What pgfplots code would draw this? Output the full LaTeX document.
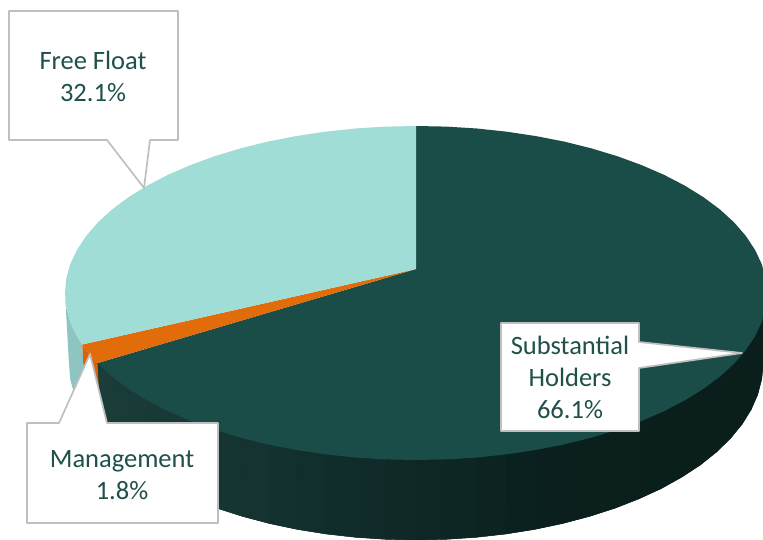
\documentclass[border=0pt]{standalone}
\usepackage{fontspec}
\setmainfont{Carlito}
\usepackage{pgfplots}
\pgfplotsset{compat=1.18}
\definecolor{topDark}{RGB}{27,77,72}
\definecolor{topLight}{RGB}{160,221,214}
\definecolor{topOrange}{RGB}{226,107,10}
\definecolor{wallLight}{RGB}{143,197,193}
\definecolor{wallOrange}{RGB}{215,100,8}
\definecolor{wallBase}{RGB}{14,38,36}
\definecolor{calloutEdge}{RGB}{191,191,191}
\definecolor{labelInk}{RGB}{31,80,75}
\begin{document}
\begin{tikzpicture}
\useasboundingbox (0,0) rectangle (763pt,539pt);
\begin{axis}[
  anchor=south west, at={(0,0)},
  scale only axis, width=763pt, height=539pt,
  xmin=0, xmax=763, ymin=0, ymax=539, y dir=reverse,
  hide axis, clip=true,
  colormap={wall}{rgb255=(26,62,59) rgb255=(17,47,45) rgb255=(11,32,30) rgb255=(10,30,27)},
  point meta min=95, point meta max=763,
]
% Base coat under the front wall of the largest slice
\addplot[fill=wallBase, draw=none] coordinates {
(97.4,363.1) (720.0,376.5) (767.0,293.0) (763.0,364.0) (761.7,379.3) (757.7,394.6) (751.2,409.5)
(742.1,424.2) (730.5,438.4) (716.5,452.0) (700.3,465.0) (681.8,477.1) (661.4,488.5)
(639.0,498.8) (615.0,508.2) (589.5,516.4) (562.6,523.5) (534.7,529.4) (505.8,534.0)
(476.2,537.3) (446.2,539.3) (416.0,540.0) (385.8,539.3) (355.8,537.3) (326.2,534.0)
(297.3,529.4) (269.4,523.5) (242.5,516.4) (217.0,508.2) (193.0,498.8) (170.6,488.5)
(150.2,477.1) (131.7,465.0) (115.5,452.0) (101.5,438.4)} -- cycle;
% Outer wall of the largest slice, front arc, top rim paired with bottom rim
\addplot[surf, shader=flat mean,
         mesh/cols=2, point meta=x] table[row sep=\\] {
x y\\
97.4 363.1\\ 101.5 438.4\\
112.0 376.5\\ 115.5 452.0\\
128.5 388.8\\ 131.7 465.0\\
147.1 400.3\\ 150.2 477.1\\
167.8 411.1\\ 170.6 488.5\\
190.4 420.9\\ 193.0 498.8\\
214.7 429.8\\ 217.0 508.2\\
240.5 437.6\\ 242.5 516.4\\
267.7 444.4\\ 269.4 523.5\\
296.0 449.9\\ 297.3 529.4\\
325.2 454.3\\ 326.2 534.0\\
355.1 457.5\\ 355.8 537.3\\
385.4 459.4\\ 385.8 539.3\\
416.0 460.0\\ 416.0 540.0\\
446.6 459.4\\ 446.2 539.3\\
476.9 457.5\\ 476.2 537.3\\
506.8 454.3\\ 505.8 534.0\\
536.0 449.9\\ 534.7 529.4\\
564.3 444.4\\ 562.6 523.5\\
591.5 437.6\\ 589.5 516.4\\
617.3 429.8\\ 615.0 508.2\\
641.6 420.9\\ 639.0 498.8\\
664.2 411.1\\ 661.4 488.5\\
684.9 400.3\\ 681.8 477.1\\
703.5 388.8\\ 700.3 465.0\\
720.0 376.5\\ 716.5 452.0\\
734.1 363.6\\ 730.5 438.4\\
745.8 350.1\\ 742.1 424.2\\
755.0 336.2\\ 751.2 409.5\\
761.7 322.0\\ 757.7 394.6\\
765.7 307.6\\ 761.7 379.3\\
767.0 293.0\\ 763.0 364.0\\
};
% Outer wall of the free float slice
\addplot[fill=wallLight, draw=none] coordinates {
(65.0,293) (66.3,307.6) (70.3,322.0) (77.0,336.2) (82.3,344.5)
(86.0,418.0) (80.8,409.5) (74.3,394.6) (70.3,379.3) (69.0,364.0)} -- cycle;
% Outer wall of the management slice
\addplot[fill=wallOrange, draw=none] coordinates {
(82.3,344.5) (86.2,350.1) (97.4,363.1) (101.5,438.4) (86.0,418.0)} -- cycle;

% Top face: substantial holders 66.1%
\addplot[fill=topDark, draw=none] coordinates {
(416,269) (416,126)
(446.6,126.6) (476.9,128.5) (506.8,131.7) (536.0,136.1) (564.3,141.6) (591.5,148.4)
(617.3,156.2) (641.6,165.1) (664.2,174.9) (684.9,185.7) (703.5,197.2) (720.0,209.5)
(734.1,222.4) (745.8,235.9) (755.0,249.8) (761.7,264.0) (765.7,278.4) (767.0,293.0)
(765.7,307.6) (761.7,322.0) (755.0,336.2) (745.8,350.1) (734.1,363.6) (720.0,376.5)
(703.5,388.8) (684.9,400.3) (664.2,411.1) (641.6,420.9) (617.3,429.8) (591.5,437.6)
(564.3,444.4) (536.0,449.9) (506.8,454.3) (476.9,457.5) (446.6,459.4) (416.0,460.0)
(385.4,459.4) (355.1,457.5) (325.2,454.3) (296.0,449.9) (267.7,444.4) (240.5,437.6)
(214.7,429.8) (190.4,420.9) (167.8,411.1) (147.1,400.3) (128.5,388.8) (112.0,376.5)
(97.4,363.1)} -- cycle;
% Top face: management 1.8%
\addplot[fill=topOrange, draw=none] coordinates {
(416,269) (97.4,363.1) (86.2,350.1) (82.3,344.5)} -- cycle;
% Top face: free float 32.1%
\addplot[fill=topLight, draw=none] coordinates {
(416,269) (82.3,344.5) (77.0,336.2) (70.3,322.0) (66.3,307.6) (65.0,293.0)
(66.3,278.4) (70.3,264.0) (77.0,249.8) (86.2,235.9) (97.9,222.4) (112.0,209.5)
(128.5,197.2) (147.1,185.7) (167.8,174.9) (190.4,165.1) (214.7,156.2) (240.5,148.4)
(267.7,141.6) (296.0,136.1) (325.2,131.7) (355.1,128.5) (385.4,126.6) (416,126)} -- cycle;

% Callouts
\addplot[fill=white, draw=calloutEdge, line width=1.7pt, line join=round] coordinates {
(9,11) (178,11) (178,140) (150,140) (144,188) (107,140) (9,140)} -- cycle;
\addplot[fill=white, draw=calloutEdge, line width=1.7pt, line join=round] coordinates {
(27,423) (59,423) (90,354) (107,423) (218,423) (218,523) (27,523)} -- cycle;
\addplot[fill=white, draw=calloutEdge, line width=1.7pt, line join=round] coordinates {
(501,323) (639,323) (639,342) (742,353) (639,368) (639,431) (501,431)} -- cycle;

\node[text=labelInk, align=center, font=\fontsize{26.5}{32}\selectfont] at (axis cs:93,76) {Free Float\\32.1\%};
\node[text=labelInk, align=center, font=\fontsize{26.5}{32}\selectfont] at (axis cs:122,475) {Management\\1.8\%};
\node[text=labelInk, align=center, font=\fontsize{26.5}{32}\selectfont] at (axis cs:570,377) {Substantial\\Holders\\66.1\%};
\end{axis}
\end{tikzpicture}
\end{document}
